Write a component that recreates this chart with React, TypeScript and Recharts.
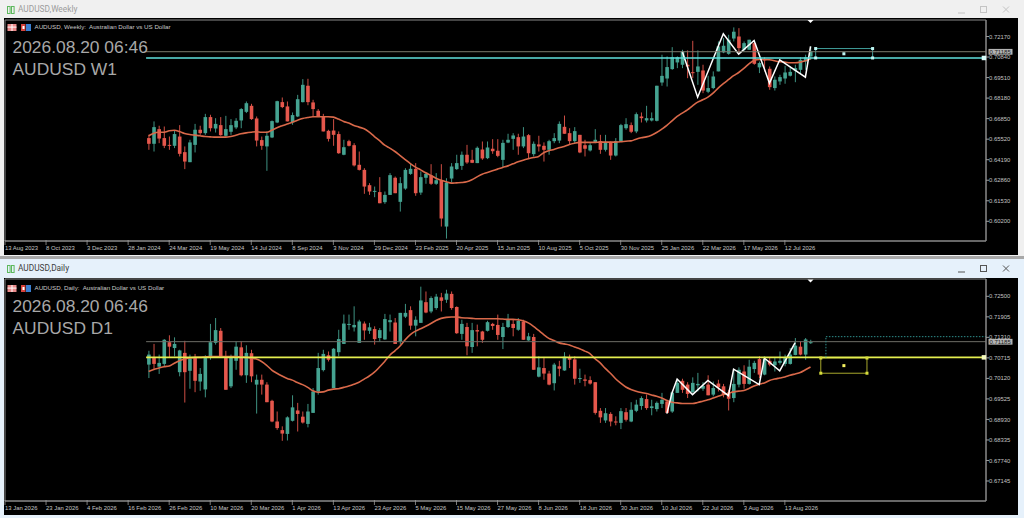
import React from "react";
import { ComposedChart, Bar, Line, XAxis, YAxis, ReferenceLine, ReferenceDot, ReferenceArea } from "recharts";

// open, high, low, close for each weekly bar
const weeklyOhlc = [
  [0.6559,0.6580,0.6483,0.6522],[0.6522,0.6667,0.6472,0.6630],[0.6617,0.6639,0.6526,0.6556],[0.6559,0.6634,0.6494,0.6509],[0.6515,0.6569,0.6483,0.6511],
  [0.6509,0.6608,0.6494,0.6585],[0.6569,0.6643,0.6440,0.6457],[0.6468,0.6505,0.6358,0.6407],[0.6403,0.6548,0.6403,0.6531],[0.6515,0.6651,0.6466,0.6613],
  [0.6613,0.6639,0.6580,0.6591],[0.6591,0.6716,0.6580,0.6695],[0.6695,0.6710,0.6602,0.6623],[0.6621,0.6688,0.6595,0.6651],[0.6643,0.6695,0.6574,0.6578],
  [0.6574,0.6703,0.6569,0.6617],[0.6600,0.6682,0.6580,0.6643],[0.6628,0.6688,0.6617,0.6671],[0.6673,0.6753,0.6623,0.6747],[0.6729,0.6796,0.6721,0.6785],
  [0.6768,0.6781,0.6677,0.6682],[0.6686,0.6699,0.6505,0.6543],[0.6546,0.6569,0.6483,0.6509],[0.6505,0.6602,0.6347,0.6574],[0.6563,0.6673,0.6559,0.6669],
  [0.6660,0.6801,0.6656,0.6798],[0.6792,0.6822,0.6753,0.6760],[0.6764,0.6796,0.6667,0.6667],[0.6660,0.6725,0.6645,0.6708],[0.6699,0.6839,0.6695,0.6811],
  [0.6792,0.6941,0.6790,0.6904],[0.6898,0.6943,0.6772,0.6792],[0.6790,0.6807,0.6695,0.6747],[0.6736,0.6747,0.6695,0.6699],[0.6699,0.6716,0.6602,0.6602],
  [0.6606,0.6613,0.6537,0.6554],[0.6608,0.6682,0.6509,0.6580],[0.6585,0.6602,0.6457,0.6461],[0.6451,0.6548,0.6448,0.6500],[0.6539,0.6548,0.6505,0.6509],
  [0.6513,0.6526,0.6375,0.6382],[0.6386,0.6472,0.6349,0.6353],[0.6353,0.6364,0.6198,0.6245],[0.6254,0.6267,0.6191,0.6213],[0.6213,0.6245,0.6176,0.6217],
  [0.6209,0.6306,0.6137,0.6137],[0.6144,0.6213,0.6133,0.6191],[0.6191,0.6332,0.6191,0.6319],[0.6302,0.6310,0.6202,0.6202],[0.6146,0.6306,0.6083,0.6267],
  [0.6232,0.6364,0.6224,0.6353],[0.6327,0.6397,0.6321,0.6360],[0.6360,0.6397,0.6185,0.6202],[0.6206,0.6343,0.6191,0.6306],[0.6302,0.6336,0.6263,0.6327],
  [0.6317,0.6390,0.6256,0.6263],[0.6263,0.6332,0.6256,0.6286],[0.6286,0.6390,0.5986,0.6038],[0.5986,0.6299,0.5908,0.6271],[0.6297,0.6397,0.6271,0.6375],
  [0.6358,0.6451,0.6353,0.6397],[0.6379,0.6472,0.6353,0.6451],[0.6451,0.6515,0.6392,0.6401],[0.6418,0.6483,0.6397,0.6399],[0.6397,0.6505,0.6397,0.6496],
  [0.6485,0.6537,0.6418,0.6427],[0.6429,0.6537,0.6423,0.6498],[0.6490,0.6552,0.6457,0.6474],[0.6477,0.6552,0.6435,0.6444],[0.6418,0.6548,0.6371,0.6528],
  [0.6530,0.6587,0.6526,0.6548],[0.6554,0.6591,0.6483,0.6576],[0.6565,0.6587,0.6451,0.6505],[0.6505,0.6630,0.6494,0.6569],[0.6578,0.6585,0.6429,0.6461],
  [0.6455,0.6537,0.6440,0.6522],[0.6518,0.6574,0.6472,0.6505],[0.6509,0.6531,0.6407,0.6483],[0.6483,0.6548,0.6451,0.6539],[0.6539,0.6591,0.6526,0.6559],
  [0.6543,0.6667,0.6526,0.6651],[0.6632,0.6705,0.6587,0.6587],[0.6591,0.6623,0.6515,0.6539],[0.6539,0.6630,0.6526,0.6604],[0.6580,0.6580,0.6461,0.6466],
  [0.6513,0.6548,0.6440,0.6490],[0.6479,0.6526,0.6472,0.6513],[0.6530,0.6617,0.6526,0.6548],[0.6539,0.6580,0.6457,0.6483],[0.6483,0.6580,0.6472,0.6530],
  [0.6530,0.6537,0.6418,0.6446],[0.6446,0.6559,0.6440,0.6539],[0.6537,0.6651,0.6537,0.6643],[0.6623,0.6688,0.6613,0.6649],[0.6643,0.6660,0.6591,0.6600],
  [0.6602,0.6725,0.6591,0.6714],[0.6699,0.6725,0.6660,0.6688],[0.6673,0.6768,0.6660,0.6688],[0.6673,0.6725,0.6667,0.6688],[0.6671,0.6898,0.6667,0.6898],
  [0.6919,0.7099,0.6898,0.6962],[0.6945,0.7088,0.6893,0.7019],[0.7006,0.7148,0.7001,0.7083],[0.7049,0.7088,0.7012,0.7083],[0.7034,0.7131,0.7012,0.7120],
  [0.7034,0.7127,0.6947,0.7023],[0.6986,0.7189,0.6947,0.6980],[0.6988,0.7127,0.6904,0.7023],[0.6997,0.7034,0.6850,0.6867],[0.6859,0.6963,0.6850,0.6883],
  [0.6883,0.6991,0.6876,0.6958],[0.6991,0.7185,0.6991,0.7153],[0.7114,0.7207,0.7109,0.7157],[0.7105,0.7228,0.7099,0.7196],[0.7204,0.7276,0.7185,0.7248],
  [0.7217,0.7271,0.7109,0.7142],[0.7131,0.7185,0.7120,0.7174],[0.7131,0.7196,0.7131,0.7196],[0.7174,0.7191,0.7034,0.7040],[0.7017,0.7055,0.6980,0.7045],
  [0.7071,0.7083,0.6991,0.7062],[0.7008,0.7023,0.6872,0.6889],[0.6883,0.6958,0.6867,0.6937],[0.6926,0.6969,0.6904,0.6954],[0.6945,0.7027,0.6911,0.6984],
  [0.6963,0.7023,0.6958,0.6988],[0.6997,0.7034,0.6921,0.7012],[0.7001,0.7083,0.6975,0.7066],[0.7055,0.7099,0.7001,0.7083],[0.7088,0.7153,0.7066,0.7120],
];

const weeklyMa = [
  0.6574,0.6591,0.6597,0.6597,0.6606,0.6610,0.6602,0.6589,0.6582,0.6578,0.6574,0.6569,0.6567,0.6565,0.6565,0.6565,0.6569,0.6578,0.6587,0.6593,
  0.6597,0.6600,0.6597,0.6597,0.6610,0.6626,0.6639,0.6651,0.6662,0.6675,0.6686,0.6692,0.6697,0.6697,0.6697,0.6697,0.6695,0.6682,
  0.6667,0.6656,0.6641,0.6630,0.6619,0.6597,0.6569,0.6543,0.6513,0.6494,0.6472,0.6446,0.6420,0.6394,0.6371,0.6353,0.6334,0.6317,0.6299,0.6286,
  0.6276,0.6267,0.6269,0.6271,0.6276,0.6289,0.6308,0.6325,0.6336,0.6347,0.6358,0.6369,0.6379,0.6392,0.6405,0.6416,0.6425,0.6433,0.6440,0.6464,
  0.6477,0.6485,0.6496,0.6505,0.6518,0.6526,0.6531,0.6531,0.6531,0.6531,0.6533,0.6533,0.6533,0.6533,0.6535,0.6539,0.6541,0.6552,0.6561,0.6567,
  0.6578,0.6595,0.6617,0.6641,0.6671,0.6699,
  0.6721,0.6742,0.6768,0.6792,0.6807,0.6824,0.6850,0.6883,0.6911,0.6937,0.6963,0.6984,0.7010,0.7040,0.7062,0.7068,0.7068,0.7066,0.7060,0.7053,
  0.7051,0.7047,0.7047,0.7051,0.7060,0.7073,
];

// bar number (from 1), price
const weeklyZigzag = [[105,0.7120],[108,0.6824],[113,0.7235],[116,0.7103],[119,0.7191],[122,0.6915],[124,0.7066],[129,0.6954],[130,0.7153]];

const weeklyDates = ["13 Aug 2023","8 Oct 2023","3 Dec 2023","28 Jan 2024","24 Mar 2024","19 May 2024","14 Jul 2024","8 Sep 2024","3 Nov 2024","29 Dec 2024","23 Feb 2025","20 Apr 2025","15 Jun 2025","10 Aug 2025","5 Oct 2025","30 Nov 2025","25 Jan 2026","22 Mar 2026","17 May 2026","12 Jul 2026"];
const weeklyPrices = [0.7217,0.7084,0.6951,0.6818,0.6685,0.6552,0.6419,0.6286,0.6153,0.602];

const dailyOhlc = [
  [0.7052,0.7092,0.7013,0.7081],[0.7071,0.7112,0.7037,0.7054],[0.7046,0.7081,0.7025,0.7057],[0.7054,0.7126,0.7047,0.7124],[0.7117,0.7137,0.7071,0.7104],
  [0.7100,0.7131,0.7076,0.7112],[0.7030,0.7095,0.7018,0.7093],[0.7086,0.7121,0.6942,0.7030],[0.7034,0.7081,0.6982,0.7069],[0.7071,0.7083,0.6972,0.7005],
  [0.7003,0.7042,0.6976,0.7025],[0.6980,0.7079,0.6957,0.7071],[0.7073,0.7170,0.7066,0.7117],[0.7115,0.7187,0.7110,0.7152],[0.7150,0.7158,0.7071,0.7073],
  [0.7071,0.7092,0.6979,0.6979],[0.6989,0.7081,0.6984,0.7071],[0.7063,0.7119,0.7037,0.7104],[0.7102,0.7119,0.7018,0.7021],[0.7021,0.7108,0.6999,0.7086],
  [0.7085,0.7095,0.7001,0.7018],[0.6994,0.7023,0.6910,0.7008],[0.7008,0.7023,0.6965,0.6994],[0.6994,0.7001,0.6943,0.6943],[0.6947,0.6950,0.6885,0.6887],
  [0.6887,0.6916,0.6863,0.6868],[0.6862,0.6873,0.6831,0.6852],[0.6851,0.6902,0.6832,0.6899],[0.6889,0.6963,0.6887,0.6928],[0.6919,0.6941,0.6858,0.6909],
  [0.6901,0.6916,0.6881,0.6884],[0.6880,0.6938,0.6870,0.6916],[0.6912,0.6984,0.6912,0.6974],[0.6974,0.7086,0.6965,0.7042],[0.7036,0.7095,0.7032,0.7083],
  [0.7079,0.7090,0.7061,0.7066],[0.6984,0.7100,0.6984,0.7098],[0.7088,0.7153,0.7076,0.7126],[0.7112,0.7197,0.7112,0.7171],[0.7167,0.7197,0.7153,0.7170],
  [0.7160,0.7221,0.7148,0.7167],[0.7115,0.7182,0.7115,0.7177],[0.7171,0.7177,0.7124,0.7151],[0.7150,0.7173,0.7141,0.7160],[0.7155,0.7163,0.7110,0.7126],
  [0.7129,0.7158,0.7119,0.7152],[0.7125,0.7199,0.7124,0.7184],[0.7175,0.7197,0.7148,0.7181],[0.7174,0.7187,0.7112,0.7112],[0.7119,0.7202,0.7110,0.7202],
  [0.7191,0.7228,0.7187,0.7202],[0.7210,0.7221,0.7153,0.7165],[0.7165,0.7192,0.7134,0.7182],[0.7173,0.7278,0.7173,0.7238],[0.7233,0.7264,0.7201,0.7203],
  [0.7206,0.7250,0.7201,0.7245],[0.7216,0.7257,0.7211,0.7249],[0.7247,0.7260,0.7206,0.7237],[0.7240,0.7269,0.7231,0.7258],[0.7257,0.7264,0.7211,0.7216],
  [0.7219,0.7221,0.7141,0.7143],[0.7141,0.7182,0.7124,0.7170],[0.7161,0.7173,0.7079,0.7105],[0.7103,0.7173,0.7086,0.7152],[0.7152,0.7168,0.7105,0.7148],
  [0.7148,0.7150,0.7115,0.7124],[0.7150,0.7179,0.7148,0.7175],[0.7170,0.7173,0.7153,0.7164],[0.7167,0.7197,0.7124,0.7138],[0.7132,0.7173,0.7097,0.7161],
  [0.7161,0.7199,0.7158,0.7181],[0.7170,0.7182,0.7134,0.7158],[0.7153,0.7187,0.7150,0.7179],[0.7177,0.7182,0.7124,0.7124],[0.7122,0.7144,0.7121,0.7134],
  [0.7132,0.7141,0.7037,0.7037],[0.7017,0.7076,0.7015,0.7044],[0.7042,0.7071,0.7008,0.7026],[0.7026,0.7034,0.6992,0.6994],[0.6998,0.7057,0.6977,0.7052],
  [0.7047,0.7063,0.7018,0.7040],[0.7035,0.7088,0.7034,0.7075],[0.7073,0.7081,0.7042,0.7066],[0.7067,0.7076,0.6994,0.7011],[0.7011,0.7040,0.6999,0.7013],
  [0.7009,0.7023,0.6989,0.7005],[0.7007,0.7018,0.6994,0.6997],[0.7001,0.7001,0.6907,0.6912],[0.6918,0.6926,0.6883,0.6899],[0.6890,0.6926,0.6883,0.6911],
  [0.6909,0.6914,0.6873,0.6887],[0.6887,0.6902,0.6876,0.6885],[0.6883,0.6926,0.6865,0.6917],[0.6914,0.6926,0.6887,0.6892],[0.6887,0.6943,0.6885,0.6921],
  [0.6918,0.6950,0.6914,0.6936],[0.6932,0.6960,0.6921,0.6955],[0.6952,0.6965,0.6921,0.6926],[0.6926,0.6950,0.6905,0.6931],[0.6923,0.6945,0.6916,0.6941],
  [0.6938,0.6970,0.6926,0.6950],[0.6945,0.6950,0.6912,0.6912],[0.6916,0.6974,0.6912,0.6971],[0.6970,0.7008,0.6970,0.6999],[0.7005,0.7011,0.6970,0.6979],
  [0.6994,0.7001,0.6955,0.6967],[0.6972,0.7015,0.6970,0.6999],[0.6992,0.7028,0.6974,0.6996],[0.6982,0.7001,0.6976,0.6990],[0.6994,0.7021,0.6963,0.6963],
  [0.6965,0.7003,0.6960,0.6984],[0.6997,0.7008,0.6974,0.6986],[0.6989,0.6996,0.6957,0.6967],[0.6971,0.6979,0.6919,0.6953],[0.6955,0.7037,0.6943,0.6996],
  [0.6994,0.7044,0.6986,0.7037],[0.7032,0.7050,0.6982,0.6996],[0.6996,0.7066,0.6994,0.7046],[0.7039,0.7063,0.7028,0.7057],[0.7068,0.7076,0.7013,0.7023],
  [0.7023,0.7076,0.7021,0.7068],[0.7063,0.7071,0.7047,0.7052],[0.7050,0.7071,0.7032,0.7061],[0.7057,0.7090,0.7052,0.7063],[0.7054,0.7081,0.7047,0.7071],
  [0.7054,0.7100,0.7052,0.7081],[0.7080,0.7129,0.7079,0.7107],[0.7104,0.7119,0.7079,0.7081],[0.7081,0.7129,0.7066,0.7125],[0.7115,0.7124,0.7112,0.7117],
];

const dailyMa = [
  0.7032,0.7038,0.7042,0.7046,0.7048,0.7056,0.7063,0.7068,0.7071,0.7073,0.7073,0.7074,0.7075,0.7075,0.7075,0.7075,0.7075,0.7075,0.7074,0.7073,
  0.7071,0.7068,0.7061,0.7050,0.7036,0.7027,0.7019,0.7012,0.7007,0.7000,0.6994,0.6986,0.6976,0.6972,0.6973,0.6978,0.6981,0.6982,
  0.6986,0.6990,0.6995,0.7001,0.7010,0.7019,0.7030,0.7045,0.7061,0.7079,0.7092,0.7106,0.7124,0.7139,0.7149,0.7156,0.7163,0.7171,0.7180,0.7186,
  0.7189,0.7190,0.7190,0.7188,0.7187,0.7186,0.7185,0.7185,0.7185,0.7185,0.7185,0.7184,0.7183,0.7183,0.7182,0.7179,0.7173,0.7163,0.7151,0.7139,
  0.7128,0.7122,0.7115,0.7112,0.7109,0.7103,0.7098,0.7091,0.7084,0.7069,0.7057,0.7041,0.7027,0.7011,0.6998,0.6987,0.6980,0.6975,0.6971,0.6968,
  0.6964,0.6960,0.6955,0.6948,0.6943,0.6941,
  0.6939,0.6939,0.6939,0.6942,0.6946,0.6950,0.6955,0.6960,0.6965,0.6969,0.6973,0.6975,0.6977,0.6983,0.6990,0.6995,0.6999,0.7006,0.7010,0.7013,
  0.7016,0.7021,0.7025,0.7029,0.7037,0.7045,
];

const dailyZigzag = [[102,0.6910],[103,0.6970],[104,0.7010],[107,0.6965],[110,0.7006],[114,0.6962],[115,0.7039],[120,0.6994],[121,0.7071],[124,0.7034],[127,0.7116]];

const dailyDates = ["13 Jan 2026","23 Jan 2026","4 Feb 2026","16 Feb 2026","26 Feb 2026","10 Mar 2026","20 Mar 2026","1 Apr 2026","13 Apr 2026","23 Apr 2026","5 May 2026","15 May 2026","27 May 2026","8 Jun 2026","18 Jun 2026","30 Jun 2026","10 Jul 2026","22 Jul 2026","3 Aug 2026","13 Aug 2026"];
const dailyPrices = [0.725,0.71905,0.7131,0.70715,0.7012,0.69525,0.6893,0.68335,0.6774,0.67145];

const UP = "#45a391";
const DOWN = "#e5574c";
const FIRST_BAR = 28;
const X_MAX = 191.2;
const LABEL_FONT = "'Liberation Sans', Arial, sans-serif";

function buildRows(ohlc: number[][], ma: number[], zigzag: number[][]) {
  return ohlc.map((c, i) => ({
    i: i + FIRST_BAR,
    open: c[0],
    high: c[1],
    low: c[2],
    close: c[3],
    ma: ma[i],
    zig: zigzag.find((z) => z[0] === i + 1)?.[1] ?? null,
  }));
}

// body is placed inside the high-low span that the Bar already scaled
function Candle(props: any) {
  const { x, y, width, height, payload } = props;
  const { open, high, low, close } = payload;
  const at = (v: number) => y + ((high - v) / (high - low)) * height;
  const color = close >= open ? UP : DOWN;
  const top = at(Math.max(open, close));
  const bottom = at(Math.min(open, close));
  const mid = x + width / 2;
  return (
    <g>
      <line x1={mid} x2={mid} y1={y} y2={y + height} stroke={color} strokeWidth={0.9} />
      <rect x={x} y={top} width={width} height={Math.max(bottom - top, 1)} fill={color} />
    </g>
  );
}

const handle = (key: string, x: number, y: number, color: string, size = 3) => (
  <ReferenceDot
    key={key}
    x={x}
    y={y}
    ifOverflow="visible"
    shape={(p: any) => <rect x={p.cx - size / 2} y={p.cy - size / 2} width={size} height={size} fill={color} />}
  />
);

const shiftMark = (y: number) => (
  <ReferenceDot
    x={157}
    y={y}
    ifOverflow="visible"
    shape={(p: any) => <polygon points={`${p.cx - 3},${p.cy} ${p.cx + 3},${p.cy} ${p.cx},${p.cy + 3}`} fill="#fff" />}
  />
);

const priceBox = (y: number) => (
  <ReferenceDot
    x={X_MAX}
    y={y}
    ifOverflow="visible"
    shape={(p: any) => (
      <g>
        <rect x={p.cx + 2.5} y={p.cy - 2.8} width={24} height={5.8} fill="#b4b4b4" />
        <text x={p.cx + 3.5} y={p.cy + 2.1} fontSize={6} fontFamily={LABEL_FONT} fill="#202020">0.71185</text>
      </g>
    )}
  />
);

function Panel({ rows, dates, prices, domain, height, top, marginTop, children }: any) {
  const dateTick = (p: any) => (
    <g>
      <line x1={p.x} x2={p.x} y1={p.y - 9} y2={p.y - 4} stroke="#9a9a9a" strokeWidth={0.8} />
      <text x={p.x} y={p.y + 1} fontSize={5.9} fontFamily={LABEL_FONT} fill="#c4c4c4">
        {dates[p.payload.value / 8]}
      </text>
    </g>
  );
  return (
    <div style={{ position: "absolute", left: 0, top, width: 1024, height }}>
      <ComposedChart
        width={1024}
        height={height}
        data={rows}
        margin={{ top: marginTop, right: 0, bottom: 0, left: 5 }}
        barSize={3.6}
      >
        <XAxis
          dataKey="i"
          type="number"
          domain={[0, X_MAX]}
          allowDataOverflow
          ticks={dates.map((_: string, k: number) => k * 8)}
          interval={0}
          height={14}
          axisLine={{ stroke: "#8a8a8a" }}
          tickLine={false}
          tick={dateTick}
        />
        <YAxis
          orientation="right"
          width={38}
          domain={domain}
          allowDataOverflow
          ticks={prices}
          interval={0}
          tickSize={3}
          tickMargin={0}
          axisLine={{ stroke: "#8a8a8a" }}
          tickLine={{ stroke: "#9a9a9a" }}
          tick={{ fontSize: 5.9, fill: "#c4c4c4", fontFamily: LABEL_FONT }}
          tickFormatter={(v: number) => v.toFixed(5)}
        />
        <ReferenceArea x1={0} x2={X_MAX} y1={domain[0]} y2={domain[1]} fill="none" stroke="#8a8a8a" strokeWidth={1} ifOverflow="visible" />
        <Bar dataKey={(d: any) => [d.low, d.high]} shape={Candle} isAnimationActive={false} />
        <Line dataKey="ma" stroke="#d9694a" strokeWidth={1.6} dot={false} type="monotone" isAnimationActive={false} />
        <Line dataKey="zig" stroke="#ffffff" strokeWidth={1.5} dot={false} connectNulls isAnimationActive={false} />
        {children}
      </ComposedChart>
    </div>
  );
}

function Caption({ top, bar, clock }: { top: number; bar: string; clock: string }) {
  const big: React.CSSProperties = { position: "absolute", left: 12.5, fontFamily: LABEL_FONT, fontSize: 17.4, lineHeight: "20px", color: "#a8a8a8", whiteSpace: "nowrap" };
  return (
    <>
      <div style={{ ...big, top: top + 37.2 }}>{clock}</div>
      <div style={{ ...big, top: top + 58.8 }}>{bar}</div>
    </>
  );
}

function ChartHeader({ top, text }: { top: number; text: string }) {
  return (
    <>
      <svg style={{ position: "absolute", left: 7, top: top + 3.5 }} width={26} height={8}>
        <rect x={0.5} y={0} width={9} height={7} fill="#e98a8a" />
        <rect x={0.5} y={2.6} width={9} height={1} fill="#fff" />
        <rect x={4.5} y={0} width={1} height={7} fill="#fff" />
        <rect x={14} y={0} width={4.5} height={7} fill="#d8433c" />
        <rect x={19} y={0} width={5} height={7} fill="#3b7fd0" />
        <rect x={15.5} y={2} width={2} height={3} fill="#fff" />
      </svg>
      <div style={{ position: "absolute", left: 34.5, top: top + 3, fontFamily: LABEL_FONT, fontSize: 6.2, lineHeight: "8px", color: "#c8c8c8", whiteSpace: "pre" }}>{text}</div>
    </>
  );
}

function WindowFrame({ top, height, bg, titleColor, title, active }: any) {
  const btn = active ? "#555" : "#c4c4c4";
  return (
    <div style={{ position: "absolute", left: 0, top, width: 1024, height, background: bg }}>
      <svg style={{ position: "absolute", left: 7, top: 4.5 }} width={8} height={10}>
        <rect x={0.5} y={1.5} width={2.6} height={7} fill="none" stroke="#5db85d" strokeWidth={1} />
        <rect x={4.5} y={1.5} width={2.6} height={7} fill="none" stroke="#5db85d" strokeWidth={1} />
      </svg>
      <div style={{ position: "absolute", left: 18, top: 4, fontFamily: "Roboto, sans-serif", fontSize: 8.3, lineHeight: "11px", color: titleColor }}>{title}</div>
      <svg style={{ position: "absolute", left: 955, top: 4 }} width={60} height={12}>
        <line x1={3} x2={10} y1={9} y2={9} stroke={btn} strokeWidth={1} />
        <rect x={25.5} y={2.5} width={6} height={6} fill="none" stroke={btn} strokeWidth={1} />
        <path d="M48 2.5 L54 8.5 M54 2.5 L48 8.5" stroke={btn} strokeWidth={1} />
      </svg>
    </div>
  );
}

export default function App() {
  const weeklyRows = buildRows(weeklyOhlc, weeklyMa, weeklyZigzag);
  const dailyRows = buildRows(dailyOhlc, dailyMa, dailyZigzag);
  const weeklyDomain = [0.58924, 0.73239];
  const dailyDomain = [0.66565, 0.73002];
  const CYAN = "#5fe0dc";
  const YELLOW = "#d6dc3c";

  return (
    <div style={{ position: "absolute", left: 0, top: 0, width: 1024, height: 518, overflow: "hidden", background: "#f0f0f0" }}>
      <WindowFrame top={0} height={256} bg="#f0f0f0" titleColor="#9c9c9c" title="AUDUSD,Weekly" active={false} />
      <div style={{ position: "absolute", left: 0, top: 256, width: 1024, height: 3, background: "#a8a8a8" }} />
      <WindowFrame top={259} height={259} bg="#e6f1fb" titleColor="#404040" title="AUDUSD,Daily" active />
      <div style={{ position: "absolute", left: 4, top: 18, width: 1014, height: 237, background: "#000" }} />
      <div style={{ position: "absolute", left: 4, top: 278, width: 1014, height: 237, background: "#000" }} />

      <Panel rows={weeklyRows} dates={weeklyDates} prices={weeklyPrices} domain={weeklyDomain} height={255} top={0} marginTop={20}>
        <ReferenceLine segment={[{ x: 27.5, y: 0.71185 }, { x: X_MAX, y: 0.71185 }]} stroke="#7a7a6c" strokeWidth={1} />
        <ReferenceLine segment={[{ x: 27.5, y: 0.7078 }, { x: X_MAX, y: 0.7078 }]} stroke={CYAN} strokeWidth={1.5} />
        <ReferenceArea x1={158} x2={169.1} y1={0.7078} y2={0.7139} fill="none" stroke="#3f9c98" strokeWidth={1} />
        {handle("w1", 158, 0.7139, "#bff5f2")}
        {handle("w2", 169.1, 0.7139, "#bff5f2")}
        {handle("w3", 158, 0.7078, "#bff5f2")}
        {handle("w4", 169.1, 0.7078, "#bff5f2")}
        {handle("w5", 163.5, 0.7105, "#bff5f2")}
        {handle("w6", 190.8, 0.7078, "#d8fbf9", 4.5)}
        {shiftMark(0.7324)}
        {priceBox(0.71185)}
      </Panel>

      <Panel rows={dailyRows} dates={dailyDates} prices={dailyPrices} domain={dailyDomain} height={257} top={258} marginTop={21}>
        <ReferenceLine segment={[{ x: 27.5, y: 0.71185 }, { x: X_MAX, y: 0.71185 }]} stroke="#6e6e66" strokeWidth={1} />
        <ReferenceLine segment={[{ x: 27.5, y: 0.7073 }, { x: X_MAX, y: 0.7073 }]} stroke="#e4ee50" strokeWidth={1.6} />
        <ReferenceLine segment={[{ x: 160, y: 0.7133 }, { x: X_MAX, y: 0.7133 }]} stroke="#2f8f8c" strokeWidth={1} strokeDasharray="1.5 1.5" />
        <ReferenceLine segment={[{ x: 160, y: 0.7073 }, { x: 160, y: 0.7133 }]} stroke="#2f8f8c" strokeWidth={1} strokeDasharray="1.5 1.5" />
        <ReferenceArea x1={159} x2={168} y1={0.7027} y2={0.7071} fill="none" stroke="#a8a82c" strokeWidth={1} />
        {handle("d1", 159, 0.7071, YELLOW)}
        {handle("d2", 168, 0.7071, YELLOW)}
        {handle("d3", 159, 0.7027, YELLOW)}
        {handle("d4", 168, 0.7027, YELLOW)}
        {handle("d5", 163.5, 0.7049, "#f4f060")}
        {handle("d6", 190.8, 0.7073, "#f4f8c0", 4.5)}
        {shiftMark(0.7299)}
        {priceBox(0.71185)}
      </Panel>

      <Caption top={0} clock="2026.08.20 06:46" bar="AUDUSD W1" />
      <Caption top={259} clock="2026.08.20 06:46" bar="AUDUSD D1" />
      <ChartHeader top={20} text="AUDUSD, Weekly:  Australian Dollar vs US Dollar" />
      <ChartHeader top={281} text="AUDUSD, Daily:  Australian Dollar vs US Dollar" />
    </div>
  );
}
